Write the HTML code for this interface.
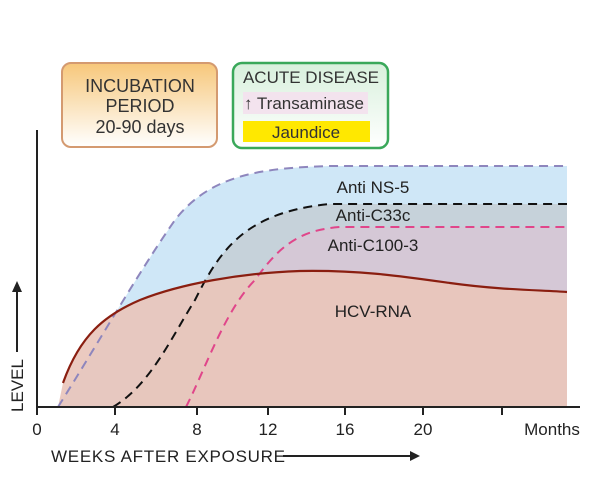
<!DOCTYPE html>
<html><head><style>
body{margin:0;background:#fff;}
svg{display:block;font-family:"Liberation Sans",sans-serif;}
</style></head><body>
<svg width="601" height="487" viewBox="0 0 601 487" xmlns="http://www.w3.org/2000/svg">
<defs>
<linearGradient id="og" x1="0" y1="0" x2="0" y2="1"><stop offset="0" stop-color="#f7c77a"/><stop offset="0.55" stop-color="#fbe6c4"/><stop offset="1" stop-color="#ffffff"/></linearGradient>
<linearGradient id="gg" x1="0" y1="0" x2="0" y2="1"><stop offset="0" stop-color="#d8f0dc"/><stop offset="1" stop-color="#ffffff"/></linearGradient>
</defs>
<rect x="62" y="63" width="155" height="84" rx="9" fill="url(#og)" stroke="#d49a70" stroke-width="2"/>
<text x="140" y="92" font-size="18" text-anchor="middle" fill="#333">INCUBATION</text>
<text x="140" y="112" font-size="18" text-anchor="middle" fill="#333">PERIOD</text>
<text x="140" y="133" font-size="18" text-anchor="middle" fill="#333">20-90 days</text>
<rect x="233" y="63" width="155" height="85" rx="9" fill="url(#gg)" stroke="#3aa85a" stroke-width="2.5"/>
<text x="311" y="83" font-size="17" text-anchor="middle" fill="#333">ACUTE DISEASE</text>
<rect x="243" y="92" width="125" height="22" fill="#f3e3ee"/>
<text x="244" y="109" font-size="17" fill="#333">↑ Transaminase</text>
<rect x="243" y="121" width="127" height="21" fill="#ffe800"/>
<text x="306" y="138" font-size="17" text-anchor="middle" fill="#333">Jaundice</text>
<path d="M58,407 C100,340 140,270 175,220 C210,175 260,168 330,166 L567,166 L567,407 Z" fill="#cfe7f7"/>
<path d="M113,407 C150,385 170,340 195,300 C220,250 245,212 330,204 L567,204 L567,407 Z" fill="#c6d2da"/>
<path d="M186,407 C205,370 225,310 255,280 C280,245 300,230 340,227 L567,227 L567,407 Z" fill="#d5c8d6"/>
<path d="M58,407 L63,383 C80,335 105,315 140,300 C180,284 240,273 300,271 C360,270 400,276 450,283 C500,290 540,290 567,292 L567,407 Z" fill="#e9c6bb" opacity="0.92"/>
<path d="M58,407 C100,340 140,270 175,220 C210,175 260,168 330,166 L567,166" fill="none" stroke="#8e86bd" stroke-width="2" stroke-dasharray="9,6"/>
<path d="M113,407 C150,385 170,340 195,300 C220,250 245,212 330,204 L567,204" fill="none" stroke="#111" stroke-width="2" stroke-dasharray="9,6"/>
<path d="M186,407 C205,370 225,310 255,280 C280,245 300,230 340,227 L567,227" fill="none" stroke="#e0468a" stroke-width="2" stroke-dasharray="9,6"/>
<path d="M63,383 C80,335 105,315 140,300 C180,284 240,273 300,271 C360,270 400,276 450,283 C500,290 540,290 567,292" fill="none" stroke="#8a1e10" stroke-width="2.2"/>
<text x="373" y="193" font-size="17" text-anchor="middle" fill="#222">Anti NS-5</text>
<text x="373" y="221" font-size="17" text-anchor="middle" fill="#222">Anti-C33c</text>
<text x="373" y="251" font-size="17" text-anchor="middle" fill="#222">Anti-C100-3</text>
<text x="373" y="317" font-size="17" text-anchor="middle" fill="#222">HCV-RNA</text>
<line x1="37" y1="130" x2="37" y2="409" stroke="#222" stroke-width="2"/>
<line x1="36" y1="407" x2="580" y2="407" stroke="#222" stroke-width="2"/>
<g stroke="#222" stroke-width="2">
<line x1="37" y1="407" x2="37" y2="415"/><line x1="115" y1="407" x2="115" y2="415"/><line x1="197" y1="407" x2="197" y2="415"/><line x1="268" y1="407" x2="268" y2="415"/><line x1="345" y1="407" x2="345" y2="415"/><line x1="423" y1="407" x2="423" y2="415"/><line x1="502" y1="407" x2="502" y2="415"/>
</g>
<g font-size="17" fill="#222" text-anchor="middle">
<text x="37" y="435">0</text><text x="115" y="435">4</text><text x="197" y="435">8</text><text x="268" y="435">12</text><text x="345" y="435">16</text><text x="423" y="435">20</text>
</g>
<text x="552" y="435" font-size="17" fill="#222" text-anchor="middle">Months</text>
<text x="51" y="462" font-size="17" fill="#222" textLength="234">WEEKS AFTER EXPOSURE</text>
<line x1="283" y1="456" x2="410" y2="456" stroke="#222" stroke-width="2"/>
<polygon points="410,451 420,456 410,461" fill="#222"/>
<text transform="translate(23,412) rotate(-90)" font-size="17" fill="#222">LEVEL</text>
<line x1="17" y1="352" x2="17" y2="290" stroke="#222" stroke-width="2"/>
<polygon points="12,292 17,281 22,292" fill="#222"/>
</svg>
</body></html>
